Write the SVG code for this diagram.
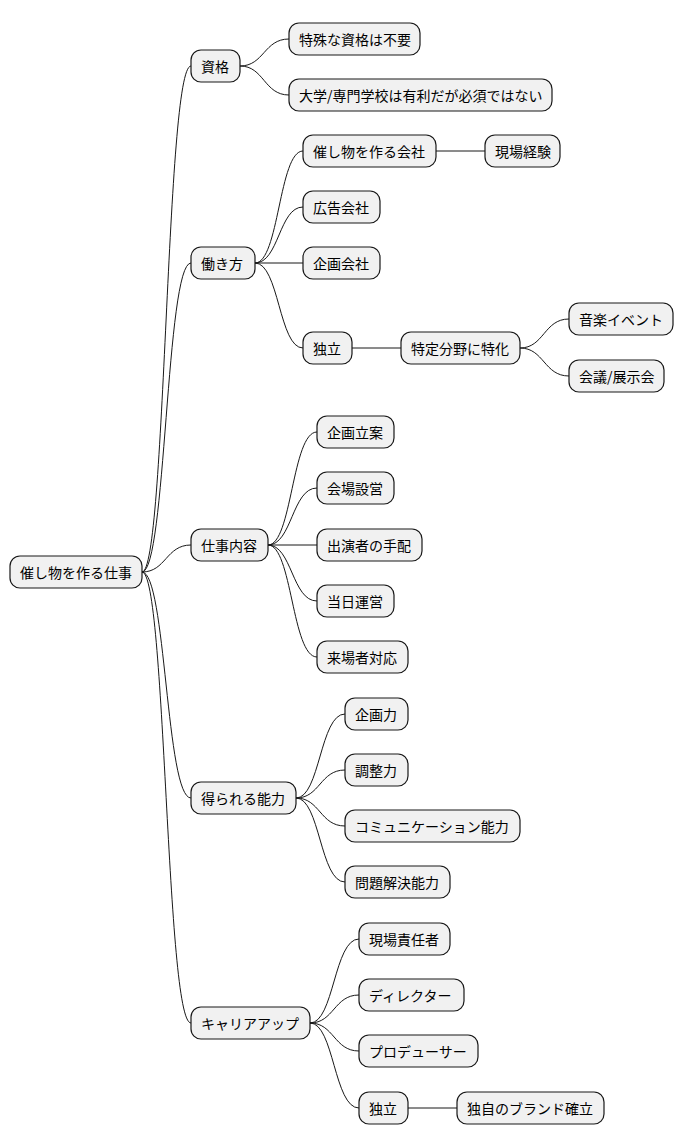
<svg xmlns="http://www.w3.org/2000/svg" width="684" height="1146" viewBox="0 0 684 1146">
<style>
rect{fill:#f1f1f1;stroke:#181818;stroke-width:1.2}
text{font-family:"Noto Sans CJK JP","Liberation Sans",sans-serif;font-size:14px;fill:#000;dominant-baseline:central}
#edges path{fill:none;stroke:#181818;stroke-width:1}
</style>
<rect x="0" y="0" width="684" height="1146" style="fill:#fff;stroke:none"/>
<g id="edges">
<path d="M142 572C166 572 166 66 191 66"/>
<path d="M142 572C166 572 166 263 191 263"/>
<path d="M142 572C166 572 166 545 191 545"/>
<path d="M142 572C166 572 166 798 191 798"/>
<path d="M142 572C166 572 166 1023 191 1023"/>
<path d="M240 66C264 66 264 39 289 39"/>
<path d="M240 66C264 66 264 95 289 95"/>
<path d="M255 263C279 263 279 151 303 151"/>
<path d="M255 263C279 263 279 207 303 207"/>
<path d="M255 263L303 263"/>
<path d="M255 263C279 263 279 348 303 348"/>
<path d="M436 151L485 151"/>
<path d="M352 348L401 348"/>
<path d="M520 348C544 348 544 319 569 319"/>
<path d="M520 348C544 348 544 376 569 376"/>
<path d="M268 545C292 545 292 432 317 432"/>
<path d="M268 545C292 545 292 488 317 488"/>
<path d="M268 545L317 545"/>
<path d="M268 545C292 545 292 601 317 601"/>
<path d="M268 545C292 545 292 657 317 657"/>
<path d="M296 798C320 798 320 714 345 714"/>
<path d="M296 798C320 798 320 770 345 770"/>
<path d="M296 798C320 798 320 826 345 826"/>
<path d="M296 798C320 798 320 882 345 882"/>
<path d="M310 1023C334 1023 334 939 359 939"/>
<path d="M310 1023C334 1023 334 995 359 995"/>
<path d="M310 1023C334 1023 334 1051 359 1051"/>
<path d="M310 1023C334 1023 334 1108 359 1108"/>
<path d="M408 1108L457 1108"/>
</g>
<g id="root"><rect x="10" y="556" width="132" height="32" rx="10"/><text x="20" y="572">催し物を作る仕事</text></g>
<g id="n1"><rect x="191" y="50" width="49" height="32" rx="10"/><text x="201" y="66">資格</text></g>
<g id="n2"><rect x="191" y="247" width="64" height="32" rx="10"/><text x="201" y="263">働き方</text></g>
<g id="n3"><rect x="191" y="529" width="77" height="32" rx="10"/><text x="201" y="545">仕事内容</text></g>
<g id="n4"><rect x="191" y="782" width="105" height="32" rx="10"/><text x="201" y="798">得られる能力</text></g>
<g id="n5"><rect x="191" y="1007" width="119" height="32" rx="10"/><text x="201" y="1023">キャリアアップ</text></g>
<g id="n11"><rect x="289" y="23" width="131" height="32" rx="10"/><text x="299" y="39">特殊な資格は不要</text></g>
<g id="n12"><rect x="289" y="79" width="263" height="32" rx="10"/><text x="299" y="95">大学/専門学校は有利だが必須ではない</text></g>
<g id="n21"><rect x="303" y="135" width="133" height="32" rx="10"/><text x="313" y="151">催し物を作る会社</text></g>
<g id="n211"><rect x="485" y="135" width="75" height="32" rx="10"/><text x="495" y="151">現場経験</text></g>
<g id="n22"><rect x="303" y="191" width="77" height="32" rx="10"/><text x="313" y="207">広告会社</text></g>
<g id="n23"><rect x="303" y="247" width="77" height="32" rx="10"/><text x="313" y="263">企画会社</text></g>
<g id="n24"><rect x="303" y="332" width="49" height="32" rx="10"/><text x="313" y="348">独立</text></g>
<g id="n241"><rect x="401" y="332" width="119" height="32" rx="10"/><text x="411" y="348">特定分野に特化</text></g>
<g id="n2411"><rect x="569" y="303" width="104" height="32" rx="10"/><text x="579" y="319">音楽イベント</text></g>
<g id="n2412"><rect x="569" y="360" width="95" height="32" rx="10"/><text x="579" y="376">会議/展示会</text></g>
<g id="n31"><rect x="317" y="416" width="77" height="32" rx="10"/><text x="327" y="432">企画立案</text></g>
<g id="n32"><rect x="317" y="472" width="77" height="32" rx="10"/><text x="327" y="488">会場設営</text></g>
<g id="n33"><rect x="317" y="529" width="105" height="32" rx="10"/><text x="327" y="545">出演者の手配</text></g>
<g id="n34"><rect x="317" y="585" width="77" height="32" rx="10"/><text x="327" y="601">当日運営</text></g>
<g id="n35"><rect x="317" y="641" width="91" height="32" rx="10"/><text x="327" y="657">来場者対応</text></g>
<g id="n41"><rect x="345" y="698" width="63" height="32" rx="10"/><text x="355" y="714">企画力</text></g>
<g id="n42"><rect x="345" y="754" width="63" height="32" rx="10"/><text x="355" y="770">調整力</text></g>
<g id="n43"><rect x="345" y="810" width="175" height="32" rx="10"/><text x="355" y="826">コミュニケーション能力</text></g>
<g id="n44"><rect x="345" y="866" width="105" height="32" rx="10"/><text x="355" y="882">問題解決能力</text></g>
<g id="n51"><rect x="359" y="923" width="91" height="32" rx="10"/><text x="369" y="939">現場責任者</text></g>
<g id="n52"><rect x="359" y="979" width="105" height="32" rx="10"/><text x="369" y="995">ディレクター</text></g>
<g id="n53"><rect x="359" y="1035" width="119" height="32" rx="10"/><text x="369" y="1051">プロデューサー</text></g>
<g id="n54"><rect x="359" y="1092" width="49" height="32" rx="10"/><text x="369" y="1108">独立</text></g>
<g id="n541"><rect x="457" y="1092" width="147" height="32" rx="10"/><text x="467" y="1108">独自のブランド確立</text></g>
</svg>
